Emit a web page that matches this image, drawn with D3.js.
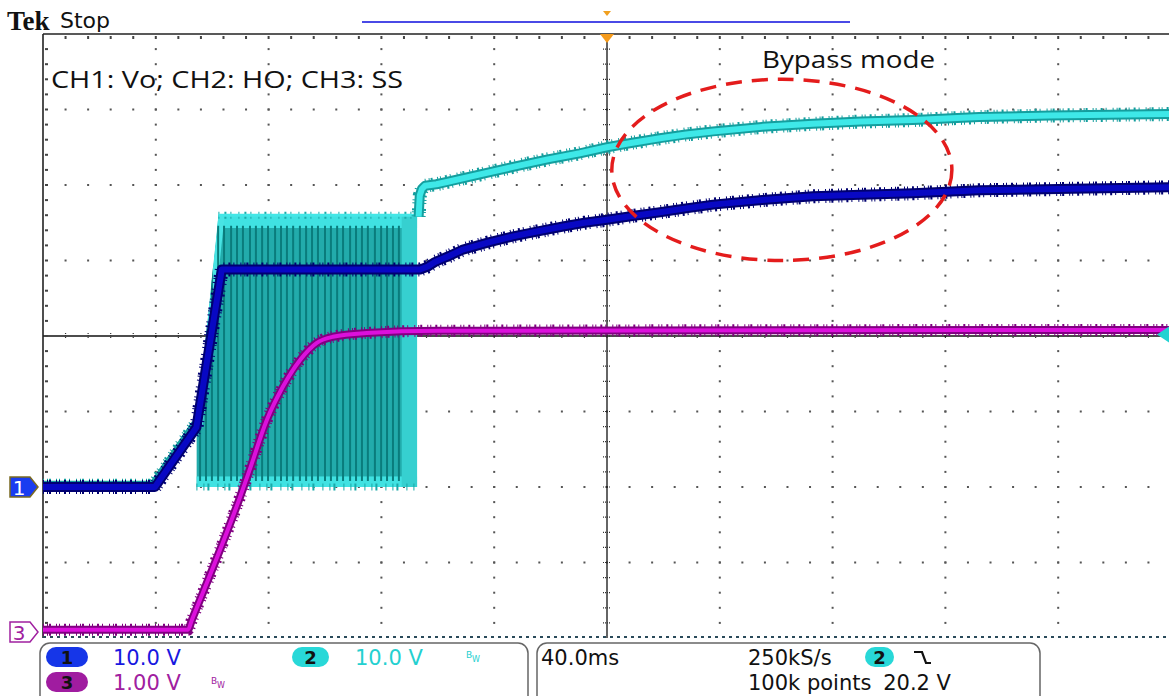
<!DOCTYPE html>
<html><head><meta charset="utf-8">
<script src="https://cdn.jsdelivr.net/npm/d3@7"></script>
<style>body{margin:0;background:#fff;overflow:hidden}svg{display:block}</style>
</head><body>
<svg id="c" width="1169" height="696"></svg>
<script>
// ---------------- DATA ----------------
// time in ms relative to trigger, values in volts
const ch1Vo = [[-200,0],[-160.3,0],[-145.6,7.9],[-136.6,28.8],[-66.3,28.8],[-63.5,29.2],[-61,29.8],[-56,30.6],[-51.4,31.4],[-42,32.4],[-33.3,33.2],[-24,33.9],[-15.6,34.5],[-8,35.0],[0,35.4],[9,35.9],[18.8,36.4],[28,36.9],[37.6,37.4],[55,38.0],[73,38.5],[90,38.7],[108.5,38.9],[132,39.3],[165,39.5],[200,39.7]];
const ch2HOpre = [[-200,0.3],[-161,0.3],[-146,8.4]];
const ch2HOenvelope = [[-145.6,0],[-145.6,7.9],[-137.8,36],[-67.3,36],[-67.3,0]];
const ch2HOpulses = [-144.3,-142.2,-140.1,-137.9,-135.8,-133.3,-131.2,-129.1,-126.6,-124.5,-122.3,-120.2,-117.7,-115.6,-113.5,-111.3,-108.9,-106.7,-104.6,-102.5,-100.0,-97.9,-95.7,-93.6,-91.1,-89.0,-86.9,-84.8,-82.3,-80.1,-78.0,-75.9,-73.8];
const ch2HOpost = [[-66.8,35.8],[-66.4,38.6],[-65.6,39.5],[-64.5,39.9],[-60.5,40.1],[-56.8,40.4],[-45,41.4],[-33.3,42.4],[-21,43.4],[-9.6,44.2],[0,45.0],[9,45.6],[18.8,46.2],[28,46.7],[37.6,47.1],[55,47.7],[73,48.1],[90,48.4],[108.5,48.6],[132,49.0],[157,49.2],[200,49.4]];
const ch3SS = [[-200,0.03],[-150,0.03],[-148.6,0.03],[-147.2,0.16],[-130.1,1.79],[-126.7,2.15],[-120.7,2.8],[-114.9,3.25],[-108.9,3.6],[-102.9,3.83],[-97.2,3.91],[-85.2,3.96],[-60,3.99],[200,4.0]];
const channelNames = ["1","2","3"];
const channelScales = ["10.0 V","10.0 V","1.00 V"];
const channelOffsetsDiv = [-2.0,-2.0,-3.92];
const channelVoltsPerDiv = [10,10,1];
const timeBase = "40.0ms";
const sampleRate = "250kS/s";
const recordLength = "100k points";
const triggerLevel = "20.2 V";
const annotationText = "CH1: Vo; CH2: HO; CH3: SS";
const bypassText = "Bypass mode";
const bypassEllipse = {t:62, div:2.2, rt:60.3, rdiv:1.2};

// ---------------- DRAWING ----------------
const svg = d3.select("#c");
const x = d3.scaleLinear().domain([-200,200]).range([43,1171]);
const yDiv = d3.scaleLinear().domain([-4,4]).range([638,34]);
const yCh = i => v => yDiv(channelOffsetsDiv[i] + v/channelVoltsPerDiv[i]);

// header
svg.append("text").attr("x",7).attr("y",30).attr("font-family","Liberation Serif, serif").attr("font-weight","bold").attr("font-size",27).attr("fill","#111").text("Tek");
svg.append("text").attr("x",60).attr("y",28).attr("font-family","DejaVu Sans, sans-serif").attr("font-size",22).attr("fill","#111").text("Stop");
svg.append("line").attr("x1",362).attr("x2",850).attr("y1",22).attr("y2",22).attr("stroke","#4a4ae6").attr("stroke-width",2);
svg.append("path").attr("d",`M${x(0)-4},11 L${x(0)+4},11 L${x(0)},16 Z`).attr("fill","#f0a020");

// graticule
const g = svg.append("g");
const minorX = d3.range(0,51).map(i=>-200+i*8);
const minorY = d3.range(0,41).map(j=>-4+j*0.2);
[ -3,-2,-1,1,2,3 ].forEach(d=>{
  g.selectAll(null).data(minorX.slice(1)).enter().append("rect")
   .attr("x",t=>x(t)-1).attr("y",yDiv(d)-1).attr("width",2).attr("height",2).attr("fill","#555");
});
[ -160,-120,-80,-40,40,80,120,160 ].forEach(t=>{
  g.selectAll(null).data(minorY.slice(1,40)).enter().append("rect")
   .attr("x",x(t)-1).attr("y",d=>yDiv(d)-1).attr("width",2).attr("height",2).attr("fill","#555");
});
g.append("line").attr("x1",x(-200)).attr("x2",1169).attr("y1",yDiv(0)).attr("y2",yDiv(0)).attr("stroke","#111").attr("stroke-width",1.3);
g.append("line").attr("x1",x(0)).attr("x2",x(0)).attr("y1",yDiv(4)).attr("y2",yDiv(-4)).attr("stroke","#111").attr("stroke-width",1.3);
g.selectAll(null).data(minorX.slice(1)).enter().append("line")
 .attr("x1",t=>x(t)).attr("x2",t=>x(t)).attr("y1",yDiv(0)-3).attr("y2",yDiv(0)+3).attr("stroke","#333").attr("stroke-width",1.2).attr("stroke-dasharray","1 1");
g.selectAll(null).data(minorY.slice(1,40)).enter().append("line")
 .attr("x1",x(0)-4).attr("x2",x(0)+4).attr("y1",d=>yDiv(d)).attr("y2",d=>yDiv(d)).attr("stroke","#333").attr("stroke-width",1.2).attr("stroke-dasharray","1 1");
g.append("line").attr("x1",x(-200)).attr("x2",1169).attr("y1",yDiv(4)).attr("y2",yDiv(4)).attr("stroke","#222").attr("stroke-width",1.6);
g.append("line").attr("x1",x(-200)).attr("x2",x(-200)).attr("y1",yDiv(4)).attr("y2",yDiv(-4)).attr("stroke","#222").attr("stroke-width",1.6);
g.selectAll(null).data(minorX.slice(1)).enter().append("rect")
 .attr("x",t=>x(t)-1).attr("y",yDiv(4)+2).attr("width",2).attr("height",3).attr("fill","#444");
g.selectAll(null).data(minorY.slice(1,40)).enter().append("rect")
 .attr("x",x(-200)+2).attr("y",d=>yDiv(d)-1).attr("width",3).attr("height",2).attr("fill","#444");
g.append("line").attr("x1",x(-200)).attr("x2",1169).attr("y1",yDiv(-4)-1).attr("y2",yDiv(-4)-1).attr("stroke","#2a4a5a").attr("stroke-width",2).attr("stroke-dasharray","3 4");

// trace helper
const line = (i,curve) => d3.line().x(d=>x(d[0])).y(d=>yCh(i)(d[1])).curve(curve||d3.curveLinear);
function trace(data,i,c,w,curve){
  const gen=line(i,curve);
  const tg=svg.append("g").attr("fill","none").attr("stroke-linejoin","round");
  tg.append("path").attr("d",gen(data)).attr("stroke",c.dark).attr("stroke-width",w+4).attr("stroke-dasharray","1 3 1 1 2 5 1 2 1 4 2 3 1 6");
  tg.append("path").attr("d",gen(data)).attr("stroke",c.dark).attr("stroke-width",w);
  tg.append("path").attr("d",gen(data)).attr("stroke",c.main).attr("stroke-width",w-4);
}
const cyan={dark:"#149e9e",main:"#3ee8e8"}, blue={dark:"#000070",main:"#0808c4"}, mag={dark:"#800080",main:"#dc10dc"};

// CH2 (HO)
trace(ch2HOpre,1,cyan,8);
const y2=yCh(1);
const envPath=d3.line().x(d=>x(d[0])).y(d=>y2(d[1]))(ch2HOenvelope)+"Z";
svg.append("clipPath").attr("id","env").append("path").attr("d",envPath);
const sw=svg.append("g").attr("clip-path","url(#env)");
sw.append("path").attr("d",envPath).attr("fill","#22abab");
sw.append("rect").attr("x",x(-145.6)).attr("width",x(-67.3)-x(-145.6)).attr("y",y2(36)).attr("height",y2(34.3)-y2(36)).attr("fill","#40e2e2");
sw.append("rect").attr("x",x(-145.6)).attr("width",x(-67.3)-x(-145.6)).attr("y",y2(1.4)).attr("height",y2(-0.3)-y2(1.4)).attr("fill","#40e2e2");
sw.append("path").attr("d",`M${x(-145.6)},${y2(7.9)} L${x(-137.8)},${y2(36)} L${x(-135.6)},${y2(36)} L${x(-143.4)},${y2(7.9)} Z`).attr("fill","#48e4e4");
sw.append("rect").attr("x",x(-72.8)).attr("width",x(-67.3)-x(-72.8)).attr("y",y2(36)).attr("height",y2(0)-y2(36)).attr("fill","#36d0d0");
sw.selectAll(null).data(ch2HOpulses).enter().append("line")
 .attr("x1",t=>x(t)).attr("x2",t=>x(t)).attr("y1",y2(0.8)).attr("y2",y2(34.6)).attr("stroke","#0a7c7c").attr("stroke-width",2);
const sw2=svg.append("g").attr("fill","none");
sw2.append("path").attr("d",`M${x(-137.8)},${y2(36)} H${x(-67.3)}`).attr("stroke","#1aa8a8").attr("stroke-width",7).attr("stroke-dasharray","1 5 2 4 1 7");
sw2.append("path").attr("d",`M${x(-137.8)},${y2(36)} H${x(-67.3)}`).attr("stroke","#44e6e6").attr("stroke-width",3);
sw2.append("path").attr("d",`M${x(-145.6)},${y2(0)} H${x(-67.3)}`).attr("stroke","#1aa8a8").attr("stroke-width",7).attr("stroke-dasharray","1 6 1 3 2 8");
trace(ch2HOpost,1,cyan,10);

// CH1 (Vo)
trace(ch1Vo,0,blue,10);
// CH3 (SS)
trace(ch3SS,2,mag,8,d3.curveMonotoneX);

// markers
function marker(yy,fill,stroke,txt,tc){
  const m=svg.append("g");
  m.append("path").attr("d",`M10,${yy-10} H30 L38,${yy} L30,${yy+10} H10 Z`).attr("fill",fill).attr("stroke",stroke).attr("stroke-width",1.5);
  m.append("text").attr("x",19).attr("y",yy+8).attr("text-anchor","middle").attr("font-family","DejaVu Sans, sans-serif").attr("font-size",20).attr("fill",tc).text(txt);
}
marker(yCh(0)(0),"#1a3cf0","#7a6a20",channelNames[0],"#fff");
marker(yCh(2)(0),"#fff","#a020a0",channelNames[2],"#a020a0");
const ty=y2(parseFloat(triggerLevel));
svg.append("path").attr("d",`M1157,${ty} L1169,${ty-8} L1169,${ty+8} Z`).attr("fill","#22d2d2");
svg.append("path").attr("d",`M${x(0)-7},${yDiv(4)} L${x(0)+7},${yDiv(4)} L${x(0)},${yDiv(4)+9} Z`).attr("fill","#f59a1a");

// annotations
svg.append("text").attr("x",51).attr("y",88).attr("font-family","Open Sans, sans-serif").attr("font-size",24).attr("textLength",352).attr("lengthAdjust","spacingAndGlyphs").attr("fill","#111").text(annotationText);
svg.append("text").attr("x",762).attr("y",68).attr("font-family","Open Sans, sans-serif").attr("font-size",24).attr("textLength",173).attr("lengthAdjust","spacingAndGlyphs").attr("fill","#111").text(bypassText);
svg.append("ellipse").attr("cx",x(bypassEllipse.t)).attr("cy",yDiv(bypassEllipse.div))
 .attr("rx",x(bypassEllipse.t+bypassEllipse.rt)-x(bypassEllipse.t)).attr("ry",yDiv(0)-yDiv(bypassEllipse.rdiv))
 .attr("fill","none").attr("stroke","#e41c1c").attr("stroke-width",3.5).attr("stroke-dasharray","16 10");

// readout panel
const rp=svg.append("g").attr("font-family","DejaVu Sans, sans-serif").attr("font-size",21);
rp.append("rect").attr("x",40).attr("y",643).attr("width",488).attr("height",70).attr("rx",10).attr("fill","none").attr("stroke","#666").attr("stroke-width",1.5);
rp.append("rect").attr("x",537).attr("y",643).attr("width",503).attr("height",70).attr("rx",10).attr("fill","none").attr("stroke","#666").attr("stroke-width",1.5);
function pill(px,py,w,fill,txt){
  rp.append("rect").attr("x",px).attr("y",py).attr("width",w).attr("height",20).attr("rx",10).attr("fill",fill);
  rp.append("text").attr("x",px+w/2).attr("y",py+17).attr("text-anchor","middle").attr("font-weight","bold").attr("font-size",18).attr("fill","#111").text(txt);
}
pill(46,647,42,"#1636e8",channelNames[0]);
pill(292,647,37,"#28d8d8",channelNames[1]);
pill(46,672,42,"#a01ca0",channelNames[2]);
rp.append("text").attr("x",113).attr("y",665).attr("fill","#1818e0").text(channelScales[0]);
rp.append("text").attr("x",355).attr("y",665).attr("fill","#24d0d0").text(channelScales[1]);
rp.append("text").attr("x",113).attr("y",690).attr("fill","#a020a0").text(channelScales[2]);
function bw(bx,by,c){
  rp.append("text").attr("x",bx).attr("y",by).attr("font-size",9).attr("fill",c).text("B");
  rp.append("text").attr("x",bx+6).attr("y",by+4).attr("font-size",8).attr("fill",c).text("W");
}
bw(466,658,"#24d0d0");
bw(211,684,"#a020a0");
rp.append("text").attr("x",541).attr("y",665).attr("fill","#111").text(timeBase);
rp.append("text").attr("x",748).attr("y",665).attr("fill","#111").text(sampleRate);
rp.append("text").attr("x",748).attr("y",690).attr("fill","#111").text(recordLength);
pill(865,647,29,"#28d8d8",channelNames[1]);
rp.append("path").attr("d","M914,652 H922 L926,663 H931").attr("fill","none").attr("stroke","#111").attr("stroke-width",2.2);
rp.append("text").attr("x",951).attr("y",690).attr("text-anchor","end").attr("fill","#111").text(triggerLevel);
</script>
</body></html>
